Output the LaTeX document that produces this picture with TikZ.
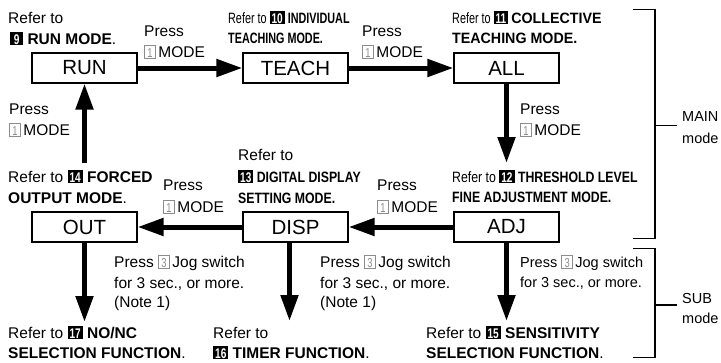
\documentclass[tikz,border=0pt]{standalone}
\usepackage{fontspec}
\setmainfont{Liberation Sans}
\newfontfamily\condfont[FakeStretch=0.72]{Liberation Sans}
\newfontfamily\semifont[FakeStretch=0.82]{Liberation Sans}
\newfontfamily\widefont[FakeStretch=0.95]{Liberation Sans}
\usetikzlibrary{arrows.meta}

% black chapter badge with white number
\newsavebox\badgebox
\newlength\badgewd
\newcommand\badge[1]{\sbox\badgebox{\color{white}\fontsize{14}{16}\condfont\bfseries #1}%
  \ifdim\wd\badgebox<9pt\setlength\badgewd{13pt}\else\setlength\badgewd{\dimexpr\wd\badgebox+4pt\relax}\fi
  {\setlength{\fboxsep}{0pt}\colorbox{black}{\makebox[\badgewd]{\rule[-0.5pt]{0pt}{12.5pt}\usebox\badgebox}}}}

% grey key cap with its number
\newcommand\keycap[1]{{\setlength{\fboxsep}{0pt}\setlength{\fboxrule}{0.6pt}%
  \textcolor{black!45}{\fbox{\makebox[10.5pt]{\rule[-0.5pt]{0pt}{11.5pt}\fontsize{13}{15}\condfont #1}}}}}

\tikzset{
  modebox/.style={draw=black, line width=1.2pt, minimum width=105pt,
    minimum height=30pt, inner sep=0pt, font=\fontsize{20.5}{24}\selectfont},
  flow/.style={line width=5pt, -{Triangle[length=26pt,width=17pt]}},
  txt/.style={anchor=base west, inner sep=0pt, font=\fontsize{15.5}{18}\selectfont},
  ctxt/.style={anchor=base west, inner sep=0pt, font=\fontsize{15}{18}\condfont},
  mtxt/.style={anchor=base west, inner sep=0pt, font=\fontsize{15}{18}\semifont},
  stxt/.style={anchor=base west, inner sep=0pt, font=\fontsize{14.5}{16}\selectfont},
  bracket/.style={line width=1.6pt},
}

\begin{document}
\begin{tikzpicture}[x=1pt, y=-1pt]
\fill[white] (0,0) rectangle (721,362);
\useasboundingbox (0,0) rectangle (721,362);

% mode boxes
\node[modebox] (RUN)   at (84.5,68)   {RUN};
\node[modebox] (TEACH) at (295.5,68)  {TEACH};
\node[modebox] (ALL)   at (506.5,68)  {ALL};
\node[modebox] (OUT)   at (84.5,227)  {OUT};
\node[modebox] (DISP)  at (295.5,227) {DISP};
\node[modebox] (ADJ)   at (506.5,227) {ADJ};

% free ends of the vertical connectors
\coordinate (allEnd)  at (506.5,163);
\coordinate (outTop)  at (84.5,163);
\coordinate (outEnd)  at (84.5,322);
\coordinate (dispBot) at (289.5,241.5);
\coordinate (dispEnd) at (289.5,321);
\coordinate (adjEnd)  at (506.5,321);

% main mode cycle
\draw[flow] (RUN.east) -- (TEACH.west);
\draw[flow] (TEACH.east) -- (ALL.west);
\draw[flow] (ALL.south) -- (allEnd);
\draw[flow] (ADJ.west) -- (DISP.east);
\draw[flow] (DISP.west) -- (OUT.east);
\draw[flow] (outTop) -- (RUN.south);

% sub mode branches
\draw[flow] (OUT.south) -- (outEnd);
\draw[flow] (dispBot) -- (dispEnd);
\draw[flow] (ADJ.south) -- (adjEnd);

% labels of the main modes
\node[txt] (runA) at (8,23) {Refer to};
\node[txt] (runB) at (10,44) {\badge{9} \textbf{RUN MODE}.};

\node[ctxt] (teachA) at (228,23) {Refer to \badge{10} \textbf{INDIVIDUAL}};
\node[ctxt] (teachB) at (228,43) {\textbf{TEACHING MODE.}};

\node[ctxt] (allA) at (452,23) {Refer to \badge{11} {\widefont\bfseries COLLECTIVE}};
\node[ctxt] (allB) at (452,43) {\widefont\bfseries TEACHING MODE.};

\node[mtxt] (adjA) at (452,182) {Refer to \badge{12} \textbf{THRESHOLD LEVEL}};
\node[mtxt] (adjB) at (452,202) {\textbf{FINE ADJUSTMENT MODE.}};

\node[txt] (dispA) at (238,160) {Refer to};
\node[mtxt] (dispB) at (238,182) {\badge{13} \textbf{DIGITAL DISPLAY}};
\node[mtxt] (dispC) at (238,203) {\textbf{SETTING MODE.}};

\node[txt] (outA) at (8,182) {Refer to \badge{14} \textbf{FORCED}};
\node[txt] (outB) at (8,203) {\textbf{OUTPUT MODE}.};

% key presses on the main cycle
\node[txt] (p1a) at (144,36) {Press};
\node[txt] (p1b) at (144,57) {\keycap{1}\,MODE};
\node[txt] (p2a) at (362,36) {Press};
\node[txt] (p2b) at (362,57) {\keycap{1}\,MODE};
\node[txt] (p3a) at (520,114) {Press};
\node[txt] (p3b) at (520,135) {\keycap{1}\,MODE};
\node[txt] (p4a) at (377,190) {Press};
\node[txt] (p4b) at (377,212) {\keycap{1}\,MODE};
\node[txt] (p5a) at (163,190) {Press};
\node[txt] (p5b) at (163,212) {\keycap{1}\,MODE};
\node[txt] (p6a) at (9,114) {Press};
\node[txt] (p6b) at (9,135) {\keycap{1}\,MODE};

% jog switch presses into the sub modes
\node[txt] (j1a) at (114,267) {Press \keycap{3}\,Jog switch};
\node[txt] (j1b) at (114,288) {for 3 sec., or more.};
\node[txt] (j1c) at (114,307) {(Note 1)};
\node[txt] (j2a) at (320,267) {Press \keycap{3}\,Jog switch};
\node[txt] (j2b) at (320,288) {for 3 sec., or more.};
\node[txt] (j2c) at (320,307) {(Note 1)};
\node[stxt] (j3a) at (520,267) {Press \keycap{3}\,Jog switch};
\node[stxt] (j3b) at (520,287) {for 3 sec., or more.};

% labels of the sub modes
\node[txt] (subA1) at (8,338) {Refer to \badge{17} \textbf{NO/NC}};
\node[txt] (subA2) at (8,358) {\textbf{SELECTION FUNCTION}.};
\node[txt] (subB1) at (213,338) {Refer to};
\node[txt] (subB2) at (213,358) {\badge{16} \textbf{TIMER FUNCTION}.};
\node[txt] (subC1) at (426,338) {Refer to \badge{15} \textbf{SENSITIVITY}};
\node[txt] (subC2) at (426,358) {\textbf{SELECTION FUNCTION}.};

% brackets grouping MAIN and SUB modes
\coordinate (mainTick) at (655,125.5);
\coordinate (subTick)  at (655,305);
\draw[bracket] (633,9.5) -- (655,9.5) -- (655,238.5) -- (633,238.5);
\draw[bracket] (mainTick) -- ++(22,0);
\draw[bracket] (633,248.5) -- (655,248.5) -- (655,357.5) -- (633,357.5);
\draw[bracket] (subTick) -- ++(22,0);

\node[stxt] (mainA) at (682,121) {MAIN};
\node[stxt] (mainB) at (682,143) {mode};
\node[stxt] (subA)  at (682,303) {SUB};
\node[stxt] (subB)  at (682,323) {mode};
\end{tikzpicture}
\end{document}
